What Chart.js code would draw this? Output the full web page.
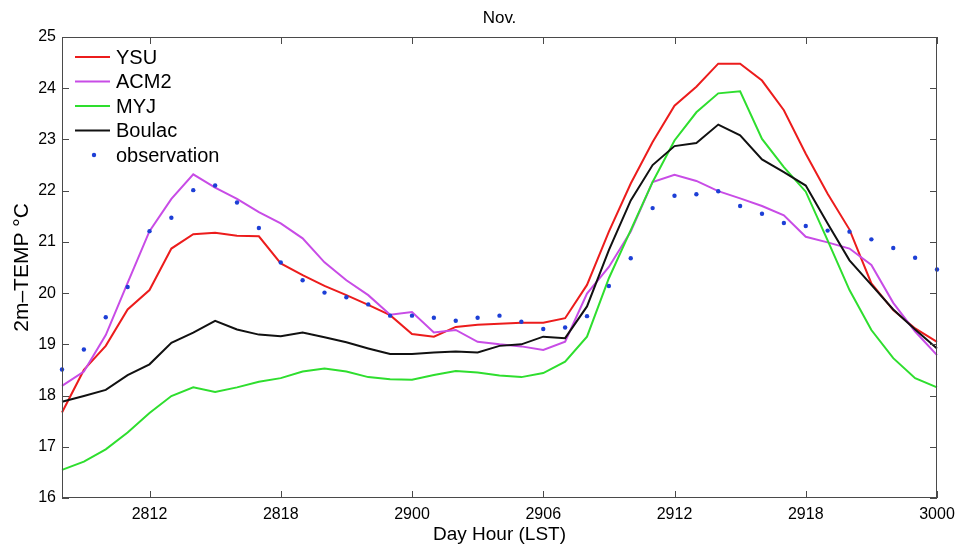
<!DOCTYPE html>
<html>
<head>
<meta charset="utf-8">
<script src="https://cdn.jsdelivr.net/npm/chart.js@4.4.1/dist/chart.umd.min.js"></script>
<style>
  html, body { margin: 0; padding: 0; background: #fff; }
  #wrap { width: 956px; height: 547px; position: relative; }
</style>
</head>
<body>
<div id="wrap"><canvas id="c"></canvas></div>
<script>
// day+hour labels, hourly from 28th 08h to 30th 00h
const dayHours = [
  "2808", "2809", "2810", "2811", "2812", "2813", "2814", "2815", "2816", "2817",
  "2818", "2819", "2820", "2821", "2822", "2823", "2900", "2901", "2902", "2903",
  "2904", "2905", "2906", "2907", "2908", "2909", "2910", "2911", "2912", "2913",
  "2914", "2915", "2916", "2917", "2918", "2919", "2920", "2921", "2922", "2923",
  "3000"
]
const tickLabels = ["2812", "2818", "2900", "2906", "2912", "2918", "3000"]

const ysu = [
  17.67, 18.50, 18.97, 19.68, 20.06, 20.87, 21.15, 21.18, 21.12, 21.11,
  20.58, 20.35, 20.14, 19.96, 19.77, 19.57, 19.20, 19.15, 19.34, 19.38,
  19.40, 19.42, 19.42, 19.51, 20.16, 21.20, 22.14, 22.95, 23.66, 24.03,
  24.48, 24.48, 24.15, 23.57, 22.72, 21.94, 21.24, 20.19, 19.67, 19.31,
  19.05
]
const acm2 = [
  18.19, 18.47, 19.18, 20.20, 21.21, 21.84, 22.32, 22.06, 21.84, 21.58,
  21.36, 21.07, 20.60, 20.25, 19.96, 19.58, 19.63, 19.23, 19.28, 19.05,
  19.00, 18.96, 18.89, 19.05, 19.99, 20.51, 21.20, 22.17, 22.31, 22.19,
  21.99, 21.85, 21.70, 21.52, 21.10, 20.99, 20.87, 20.55, 19.81, 19.25,
  18.79
]
const myj = [
  16.55, 16.71, 16.95, 17.28, 17.66, 17.99, 18.16, 18.07, 18.16, 18.27,
  18.34, 18.47, 18.53, 18.47, 18.36, 18.32, 18.31, 18.40, 18.48, 18.45,
  18.39, 18.36, 18.44, 18.66, 19.15, 20.29, 21.23, 22.17, 22.98, 23.53,
  23.90, 23.94, 23.01, 22.46, 21.98, 21.03, 20.06, 19.28, 18.73, 18.34,
  18.16
]
const boulac = [
  17.88, 17.99, 18.11, 18.40, 18.61, 19.03, 19.23, 19.46, 19.29, 19.19,
  19.16, 19.23, 19.14, 19.04, 18.92, 18.81, 18.81, 18.84, 18.86, 18.84,
  18.97, 19.00, 19.15, 19.12, 19.74, 20.84, 21.81, 22.50, 22.87, 22.93,
  23.29, 23.08, 22.61, 22.36, 22.10, 21.36, 20.64, 20.16, 19.68, 19.29,
  18.92
]
const observation = [
  18.51, 18.90, 19.53, 20.12, 21.21, 21.47, 22.01, 22.10, 21.77, 21.27,
  20.60, 20.25, 20.01, 19.92, 19.78, 19.56, 19.56, 19.52, 19.46, 19.52,
  19.56, 19.44, 19.30, 19.33, 19.55, 20.14, 20.68, 21.66, 21.90, 21.93,
  21.99, 21.70, 21.55, 21.37, 21.31, 21.22, 21.20, 21.05, 20.88, 20.69,
  20.46
]

const FONT = "'Liberation Sans', Arial, sans-serif"

const series = [
  { label: "YSU",    data: ysu,    color: "#ec1c1c", order: 5 },
  { label: "ACM2",   data: acm2,   color: "#c84ce6", order: 4 },
  { label: "MYJ",    data: myj,    color: "#2ede2e", order: 3 },
  { label: "Boulac", data: boulac, color: "#111111", order: 2 },
]

const datasets = series.map(s => ({
  label: s.label,
  data: s.data,
  borderColor: s.color,
  backgroundColor: s.color,
  borderWidth: 2,
  pointRadius: 0,
  tension: 0,
  order: s.order,
}))
datasets.push({
  label: "observation",
  data: observation,
  showLine: false,
  pointRadius: 2.2,
  pointBorderWidth: 0,
  pointBackgroundColor: "#1d3fd6",
  borderColor: "#1d3fd6",
  backgroundColor: "#1d3fd6",
  order: 1,
})

// box + inward tick marks on all four sides, plus the inline legend and title
const frame = {
  id: "frame",
  afterDraw(chart) {
    const { ctx, chartArea: a, scales } = chart
    const x = scales.x, y = scales.y
    const len = 7
    ctx.save()
    ctx.strokeStyle = "#4a4a4a"
    ctx.lineWidth = 1
    ctx.strokeRect(a.left + 0.5, a.top + 0.5, a.right - a.left - 1, a.bottom - a.top - 1)
    ctx.beginPath()
    tickLabels.forEach(l => {
      const px = Math.round(x.getPixelForValue(dayHours.indexOf(l))) + 0.5
      ctx.moveTo(px, a.bottom); ctx.lineTo(px, a.bottom - len)
      ctx.moveTo(px, a.top); ctx.lineTo(px, a.top + len)
    })
    y.ticks.forEach(t => {
      const py = Math.round(y.getPixelForValue(t.value)) + 0.5
      ctx.moveTo(a.left, py); ctx.lineTo(a.left + len, py)
      ctx.moveTo(a.right, py); ctx.lineTo(a.right - len, py)
    })
    ctx.stroke()

    // title
    ctx.fillStyle = "#000"
    ctx.font = "17px " + FONT
    ctx.textAlign = "center"
    ctx.textBaseline = "middle"
    ctx.fillText("Nov.", (a.left + a.right) / 2, 18)

    // legend
    ctx.font = "20px " + FONT
    ctx.textAlign = "left"
    const lx = a.left + 13, ly = a.top + 20
    chart.data.datasets.forEach((d, i) => {
      const yy = ly + i * 24.5
      if (d.showLine === false) {
        ctx.fillStyle = d.pointBackgroundColor
        ctx.beginPath()
        ctx.arc(lx + 19, yy, 2.2, 0, Math.PI * 2)
        ctx.fill()
      } else {
        ctx.strokeStyle = d.borderColor
        ctx.lineWidth = 2
        ctx.beginPath()
        ctx.moveTo(lx, yy); ctx.lineTo(lx + 35, yy)
        ctx.stroke()
      }
      ctx.fillStyle = "#000"
      ctx.fillText(d.label, lx + 41, yy + 1)
    })
    ctx.restore()
  }
}

new Chart(document.getElementById("c"), {
  type: "line",
  data: { labels: dayHours, datasets },
  plugins: [frame],
  options: {
    responsive: true,
    maintainAspectRatio: false,
    animation: false,
    layout: { padding: { top: 37, right: 19, left: 0, bottom: 0 } },
    plugins: {
      legend: { display: false },
      tooltip: { enabled: false },
    },
    scales: {
      x: {
        type: "category",
        offset: false,
        grid: { display: false, drawTicks: false },
        border: { display: false },
        afterFit: (s) => { s.height = 49; s.paddingLeft = 0; s.paddingRight = 0 },
        ticks: {
          autoSkip: false,
          maxRotation: 0,
          padding: 7,
          color: "#000",
          font: { family: FONT, size: 16 },
          callback: function (v) {
            const l = this.getLabelForValue(v)
            return tickLabels.includes(l) ? l : ""
          },
        },
        title: {
          display: true,
          text: "Day Hour (LST)",
          color: "#000",
          font: { family: FONT, size: 19 },
          padding: { top: 0, bottom: 1 },
        },
      },
      y: {
        min: 16,
        max: 25,
        grid: { display: false, drawTicks: false },
        border: { display: false },
        afterFit: (s) => { s.width = 62 },
        ticks: {
          stepSize: 1,
          padding: 6,
          color: "#000",
          font: { family: FONT, size: 16 },
        },
        title: {
          display: true,
          text: "2m–TEMP °C",
          color: "#000",
          font: { family: FONT, size: 21 },
          padding: { top: 10, bottom: 0 },
        },
      },
    },
  },
})
</script>
</body>
</html>
